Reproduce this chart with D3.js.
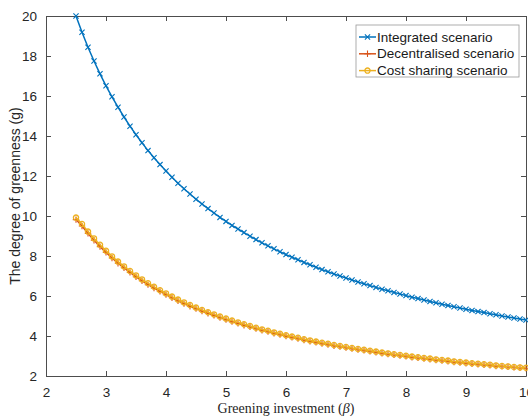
<!DOCTYPE html>
<html>
<head>
<meta charset="utf-8">
<script src="https://cdn.jsdelivr.net/npm/d3@7"></script>
<style>
  body { margin: 0; background: #fff; }
  text { font-family: "Liberation Sans", Arial, sans-serif; }
</style>
</head>
<body>
<div id="chart"></div>
<script>
'use strict'

// greening investment beta, 2.5 .. 10 in steps of 0.1
const beta = d3.range(76).map(i => +(2.5 + i * 0.1).toFixed(1))

const integrated = [
  20.00, 19.19, 18.44, 17.75, 17.11, 16.51, 15.96, 15.44, 14.95, 14.49,
  14.06, 13.66, 13.27, 12.91, 12.57, 12.25, 11.94, 11.64, 11.36, 11.10,
  10.84, 10.60, 10.37, 10.15, 9.93, 9.73, 9.53, 9.35, 9.17, 8.99,
  8.82, 8.66, 8.51, 8.36, 8.21, 8.07, 7.94, 7.81, 7.68, 7.56,
  7.44, 7.32, 7.21, 7.10, 7.00, 6.90, 6.80, 6.70, 6.61, 6.52,
  6.43, 6.34, 6.26, 6.18, 6.10, 6.02, 5.94, 5.87, 5.80, 5.73,
  5.66, 5.59, 5.53, 5.46, 5.40, 5.34, 5.28, 5.22, 5.17, 5.11,
  5.06, 5.00, 4.95, 4.90, 4.85, 4.80
]

const decentralised = [
  9.82, 9.50, 9.13, 8.79, 8.47, 8.18, 7.90, 7.64, 7.41, 7.18,
  6.96, 6.76, 6.57, 6.40, 6.23, 6.07, 5.91, 5.76, 5.62, 5.49,
  5.37, 5.25, 5.14, 5.03, 4.92, 4.82, 4.72, 4.63, 4.54, 4.46,
  4.37, 4.29, 4.22, 4.14, 4.07, 4.00, 3.93, 3.87, 3.80, 3.74,
  3.68, 3.62, 3.57, 3.51, 3.47, 3.42, 3.37, 3.32, 3.28, 3.23,
  3.19, 3.14, 3.10, 3.06, 3.02, 2.98, 2.94, 2.91, 2.87, 2.84,
  2.80, 2.77, 2.74, 2.70, 2.67, 2.64, 2.61, 2.58, 2.56, 2.53,
  2.50, 2.48, 2.46, 2.43, 2.41, 2.39
]

const costSharing = [
  9.92, 9.60, 9.22, 8.88, 8.56, 8.26, 7.98, 7.72, 7.48, 7.25,
  7.03, 6.83, 6.64, 6.46, 6.29, 6.13, 5.97, 5.82, 5.68, 5.55,
  5.42, 5.30, 5.19, 5.08, 4.97, 4.87, 4.77, 4.68, 4.59, 4.50,
  4.41, 4.33, 4.26, 4.18, 4.11, 4.04, 3.97, 3.91, 3.84, 3.78,
  3.72, 3.66, 3.61, 3.55, 3.50, 3.45, 3.40, 3.35, 3.31, 3.26,
  3.22, 3.17, 3.13, 3.09, 3.05, 3.01, 2.97, 2.94, 2.90, 2.87,
  2.83, 2.80, 2.77, 2.73, 2.70, 2.67, 2.64, 2.61, 2.59, 2.56,
  2.53, 2.50, 2.48, 2.45, 2.43, 2.41
]

const xTicks = [2, 3, 4, 5, 6, 7, 8, 9, 10]
const yTicks = [2, 4, 6, 8, 10, 12, 14, 16, 18, 20]

const series = [
  { name: 'Integrated scenario', values: integrated, color: '#0072BD', marker: 'x' },
  { name: 'Decentralised scenario', values: decentralised, color: '#D95319', marker: '+' },
  { name: 'Cost sharing scenario', values: costSharing, color: '#EDB120', marker: 'o' }
]

const W = 528, H = 417
const margin = { top: 16, right: 2, bottom: 41, left: 46 }
const width = W - margin.left - margin.right
const height = H - margin.top - margin.bottom
const axisColor = '#4d4d4d'

const svg = d3.select('#chart').append('svg')
    .attr('width', W)
    .attr('height', H)

const g = svg.append('g')
    .attr('transform', `translate(${margin.left},${margin.top})`)

const x = d3.scaleLinear().domain([2, 10]).range([0, width])
const y = d3.scaleLinear().domain([2, 20]).range([height, 0])

g.append('defs').append('clipPath').attr('id', 'clip')
  .append('rect').attr('x', -4).attr('y', -4).attr('width', width + 8).attr('height', height + 8)

// axes, ticks pointing inwards on all four sides
function styleAxis (sel, labels) {
  sel.select('.domain').attr('stroke', axisColor)
  sel.selectAll('.tick line').attr('stroke', axisColor)
  sel.selectAll('.tick text')
    .attr('fill', '#262626')
    .style('font-size', '13.5px')
  if (!labels) sel.selectAll('.tick text').remove()
}

g.append('g')
    .attr('transform', `translate(0,${height})`)
    .call(d3.axisBottom(x).tickValues(xTicks).tickSize(-5).tickPadding(11).tickSizeOuter(0))
    .call(s => styleAxis(s, true))

g.append('g')
    .call(d3.axisTop(x).tickValues(xTicks).tickSize(-5).tickSizeOuter(0))
    .call(s => styleAxis(s, false))

g.append('g')
    .call(d3.axisLeft(y).tickValues(yTicks).tickSize(-5).tickPadding(9).tickSizeOuter(0))
    .call(s => styleAxis(s, true))

g.append('g')
    .attr('transform', `translate(${width},0)`)
    .call(d3.axisRight(y).tickValues(yTicks).tickSize(-5).tickSizeOuter(0))
    .call(s => styleAxis(s, false))

// lines and markers
const line = d3.line()
  .x((d, i) => x(beta[i]))
  .y(d => y(d))

function drawMarker (sel, type, color) {
  const r = 2.6
  if (type === 'o') {
    sel.append('circle').attr('r', r).attr('fill', 'none')
      .attr('stroke', color).attr('stroke-width', 1.3)
  } else {
    const p = type === 'x'
      ? `M${-r},${-r}L${r},${r}M${-r},${r}L${r},${-r}`
      : `M${-r - 0.6},0L${r + 0.6},0M0,${-r - 0.6}L0,${r + 0.6}`
    sel.append('path').attr('d', p).attr('fill', 'none')
      .attr('stroke', color).attr('stroke-width', 1.1)
  }
}

const plot = g.append('g').attr('clip-path', 'url(#clip)')

series.forEach(s => {
  plot.append('path')
    .datum(s.values)
    .attr('fill', 'none')
    .attr('stroke', s.color)
    .attr('stroke-width', 1.5)
    .attr('d', line)

  plot.append('g').selectAll('g')
    .data(s.values)
    .join('g')
      .attr('transform', (d, i) => `translate(${x(beta[i])},${y(d)})`)
      .each(function () { drawMarker(d3.select(this), s.marker, s.color) })
})

// axis labels
svg.append('text')
    .attr('transform', `translate(16,${margin.top + height / 2}) rotate(-90)`)
    .attr('text-anchor', 'middle')
    .attr('dominant-baseline', 'middle')
    .attr('fill', '#262626')
    .style('font-size', '14px')
    .text('The degree of greenness (g)')

const xl = svg.append('text')
    .attr('x', margin.left + width / 2)
    .attr('y', 413)
    .attr('text-anchor', 'middle')
    .attr('fill', '#262626')
    .style('font-family', '"Liberation Serif", "Times New Roman", serif')
    .style('font-size', '14px')
xl.append('tspan').text('Greening investment (')
xl.append('tspan').style('font-style', 'italic').text('β')
xl.append('tspan').text(')')

// legend
const legend = svg.append('g').attr('transform', 'translate(356,25)')
legend.append('rect')
    .attr('width', 163)
    .attr('height', 52)
    .attr('fill', '#fff')
    .attr('stroke', '#9a9a9a')
    .attr('stroke-width', 0.8)

series.forEach((s, i) => {
  const row = legend.append('g').attr('transform', `translate(0,${12 + i * 16.8})`)
  row.append('line')
    .attr('x1', 3).attr('x2', 20)
    .attr('stroke', s.color).attr('stroke-width', 1.5)
  drawMarker(row.append('g').attr('transform', 'translate(11.5,0)'), s.marker, s.color)
  row.append('text')
    .attr('x', 21)
    .attr('dominant-baseline', 'central')
    .attr('fill', '#1a1a1a')
    .style('font-size', '13.5px')
    .text(s.name)
})
</script>
</body>
</html>
